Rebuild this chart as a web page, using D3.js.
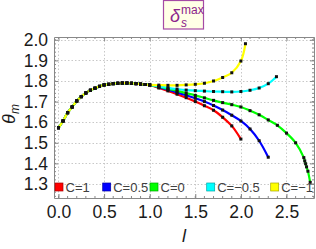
<!DOCTYPE html>
<html>
<head>
<meta charset="utf-8">
<script src="https://cdn.jsdelivr.net/npm/d3@7"></script>
<style>
  body { margin: 0; background: #fff; }
  svg { display: block; font-family: "Liberation Sans", Arial, sans-serif; }
</style>
</head>
<body>
<svg></svg>
<script>
// shared rising part (all curves coincide up to l = 1)
var lRise = [0, 0.05, 0.1, 0.15, 0.2, 0.25, 0.3, 0.35, 0.4, 0.45, 0.5, 0.55, 0.6, 0.65, 0.7, 0.75, 0.8, 0.85, 0.9, 0.95, 1.0];
var thetaRise = [1.573, 1.606, 1.646, 1.674, 1.703, 1.724, 1.742, 1.755, 1.765, 1.774, 1.781, 1.784, 1.787, 1.789, 1.790, 1.790, 1.789, 1.787, 1.785, 1.783, 1.781];

// tails per C value
var lRed = [1.1, 1.2, 1.3, 1.4, 1.5, 1.6, 1.7, 1.8, 1.9, 2.0];
var thetaRed = [1.766, 1.752, 1.736, 1.719, 1.700, 1.680, 1.658, 1.624, 1.582, 1.518];
var lBlue = [1.1, 1.2, 1.3, 1.4, 1.5, 1.6, 1.7, 1.8, 1.9, 2.0, 2.1, 2.2, 2.3];
var thetaBlue = [1.770, 1.758, 1.745, 1.731, 1.716, 1.700, 1.681, 1.659, 1.634, 1.606, 1.567, 1.510, 1.430];
var lGreen = [1.1, 1.2, 1.3, 1.4, 1.5, 1.6, 1.7, 1.8, 1.9, 2.0, 2.1, 2.2, 2.3, 2.4, 2.5, 2.6, 2.69, 2.70, 2.71, 2.72, 2.735, 2.76];
var thetaGreen = [1.772, 1.762, 1.752, 1.741, 1.730, 1.718, 1.706, 1.695, 1.685, 1.674, 1.656, 1.636, 1.611, 1.585, 1.547, 1.500, 1.428, 1.412, 1.398, 1.383, 1.362, 1.308];
var lCyan = [1.1, 1.2, 1.3, 1.4, 1.5, 1.6, 1.7, 1.8, 1.9, 2.0, 2.1, 2.2, 2.3, 2.39];
var thetaCyan = [1.774, 1.767, 1.761, 1.756, 1.753, 1.751, 1.749, 1.748, 1.747, 1.749, 1.755, 1.766, 1.787, 1.821];
var lYellow = [1.1, 1.2, 1.3, 1.4, 1.5, 1.6, 1.7, 1.8, 1.9, 2.0, 2.05];
var thetaYellow = [1.780, 1.779, 1.779, 1.781, 1.784, 1.789, 1.800, 1.817, 1.840, 1.897, 1.981];

var seriesNames = ["C=1", "C=0.5", "C=0", "C=\u22120.5", "C=\u22121"];
var seriesColors = ["#ff0000", "#0000ff", "#00ff00", "#00ffff", "#ffff00"];
var xTicks = [0, 0.5, 1.0, 1.5, 2.0, 2.5];
var yTicks = [1.3, 1.4, 1.5, 1.6, 1.7, 1.8, 1.9, 2.0];

var tails = [[lRed, thetaRed], [lBlue, thetaBlue], [lGreen, thetaGreen], [lCyan, thetaCyan], [lYellow, thetaYellow]];
var series = tails.map(function(t, i) {
  var pts = lRise.map(function(l, j) { return {l: l, th: thetaRise[j]}; });
  t[0].forEach(function(l, j) { pts.push({l: l, th: t[1][j]}); });
  return {name: seriesNames[i], color: seriesColors[i], pts: pts};
});

var width = 316, height = 249;
var pLeft = 54, pRight = 314, pTop = 37, pBottom = 198;

var svg = d3.select("svg").attr("width", width).attr("height", height);

var x = d3.scaleLinear().domain([-0.0493, 2.8016]).range([pLeft, pRight]);
var y = d3.scaleLinear().domain([1.232, 2.0136]).range([pBottom, pTop]);

svg.append("clipPath").attr("id", "clip")
  .append("rect").attr("x", pLeft).attr("y", pTop).attr("width", pRight - pLeft).attr("height", pBottom - pTop);

// grid
var grid = svg.append("g").attr("stroke", "#c8c8c8").attr("stroke-width", 1).attr("stroke-dasharray", "1.5,2");
grid.selectAll(".gx").data(xTicks).enter().append("line")
  .attr("x1", function(d) { return Math.round(x(d)) + 0.5; })
  .attr("x2", function(d) { return Math.round(x(d)) + 0.5; })
  .attr("y1", pTop).attr("y2", pBottom);
grid.selectAll(".gy").data(yTicks).enter().append("line")
  .attr("y1", function(d) { return Math.round(y(d)) + 0.5; })
  .attr("y2", function(d) { return Math.round(y(d)) + 0.5; })
  .attr("x1", pLeft).attr("x2", pRight);

// axes (frame) with ticks on all sides
var xMinor = d3.range(0, 2.81, 0.1);
var yMinor = d3.range(1.24, 2.011, 0.02);
var axBottom = d3.axisBottom(x).tickValues(xTicks).tickFormat(d3.format(".1f")).tickSizeInner(-4).tickSizeOuter(0).tickPadding(8);
var axLeft = d3.axisLeft(y).tickValues(yTicks).tickFormat(d3.format(".1f")).tickSizeInner(-4).tickSizeOuter(0).tickPadding(6);

function styleAxis(g) {
  g.select(".domain").attr("stroke", "#888");
  g.selectAll(".tick line").attr("stroke", "#888");
  g.selectAll(".tick text").attr("fill", "#1a1a1a").style("font-size", "17.5px").style("font-family", "Liberation Sans, Arial, sans-serif");
}

svg.append("g").attr("transform", "translate(0," + pBottom + ")").call(axBottom).call(styleAxis);
svg.append("g").attr("transform", "translate(" + pLeft + ",0)").call(axLeft).call(styleAxis);
svg.append("g").attr("transform", "translate(0," + pTop + ")")
  .call(d3.axisTop(x).tickValues(xTicks).tickFormat("").tickSizeInner(-4).tickSizeOuter(0)).call(styleAxis);
svg.append("g").attr("transform", "translate(" + pRight + ",0)")
  .call(d3.axisRight(y).tickValues(yTicks).tickFormat("").tickSizeInner(-4).tickSizeOuter(0)).call(styleAxis);

// minor ticks
var minor = svg.append("g").attr("stroke", "#888");
[pBottom, pTop].forEach(function(yy, k) {
  minor.selectAll(".mx" + k).data(xMinor).enter().append("line")
    .attr("x1", function(d) { return x(d); }).attr("x2", function(d) { return x(d); })
    .attr("y1", yy).attr("y2", k === 0 ? yy - 2 : yy + 2);
});
[pLeft, pRight].forEach(function(xx, k) {
  minor.selectAll(".my" + k).data(yMinor).enter().append("line")
    .attr("y1", function(d) { return y(d); }).attr("y2", function(d) { return y(d); })
    .attr("x1", xx).attr("x2", k === 0 ? xx + 2 : xx - 2);
});

// curves
var line = d3.line()
  .x(function(d) { return x(d.l); })
  .y(function(d) { return y(d.th); })
  .curve(d3.curveCatmullRom.alpha(0.5));

var plot = svg.append("g").attr("clip-path", "url(#clip)");
plot.selectAll(".curve").data(series).enter().append("path")
  .attr("d", function(d) { return line(d.pts); })
  .attr("fill", "none")
  .attr("stroke", function(d) { return d.color; })
  .attr("stroke-width", 2.2);

series.forEach(function(s) {
  plot.selectAll(null).data(s.pts).enter().append("rect")
    .attr("x", function(d) { return x(d.l) - 1.5; })
    .attr("y", function(d) { return y(d.th) - 1.5; })
    .attr("width", 3).attr("height", 3)
    .attr("fill", "#111");
});

// legend
var legendX = [55, 102.7, 150, 206.7, 270.7];
var legend = svg.append("g");
var item = legend.selectAll(".item").data(series).enter().append("g")
  .attr("transform", function(d, i) { return "translate(" + legendX[i] + ",183)"; });
item.append("rect").attr("width", 8).attr("height", 8)
  .attr("fill", function(d) { return d.color; })
  .attr("stroke", function(d) { return d3.color(d.color).darker(1.2); })
  .attr("stroke-width", 0.7);
item.append("text").attr("x", 10.5).attr("y", 8.8)
  .attr("fill", "#404040").style("font-size", "13px")
  .text(function(d) { return d.name; });

// axis labels
svg.append("text").attr("x", 184).attr("y", 242)
  .attr("text-anchor", "middle").style("font-size", "18px").style("font-style", "italic")
  .attr("fill", "#1a1a1a").text("l");

var yl = svg.append("text").attr("transform", "translate(15,114) rotate(-90)")
  .attr("text-anchor", "middle").attr("fill", "#1a1a1a").style("font-size", "18px");
yl.append("tspan").style("font-style", "italic").text("\u03b8");
yl.append("tspan").style("font-style", "italic").style("font-size", "12px").attr("dy", 4).text("m");

// title box
var tbox = svg.append("g");
tbox.append("rect").attr("x", 163.5).attr("y", 0.5).attr("width", 40).attr("height", 28.5)
  .attr("fill", "#ffffe6").attr("stroke", "#a54aa5").attr("stroke-width", 1.2);
var tt = tbox.append("text").attr("x", 170).attr("y", 22).attr("fill", "#8c268c").style("font-size", "18px");
tt.append("tspan").style("font-style", "italic").text("\u03b4");
tt.append("tspan").attr("x", 181).attr("y", 27).style("font-style", "italic").style("font-size", "12px").text("s");
tt.append("tspan").attr("x", 181).attr("y", 14).style("font-size", "12px").text("max");
</script>
</body>
</html>
